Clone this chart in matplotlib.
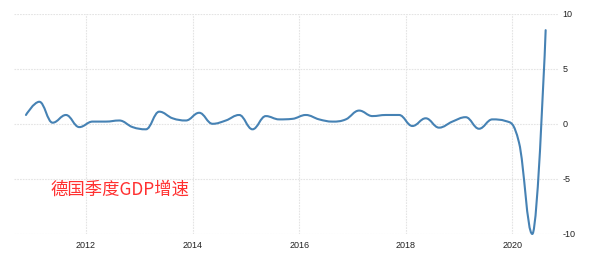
import numpy as np
import pandas as pd
import matplotlib
matplotlib.use("Agg")
import matplotlib.pyplot as plt
from matplotlib.path import Path
from matplotlib.patches import PathPatch

plt.rcParams["axes.unicode_minus"] = False

# quarterly GDP growth (QoQ %)
quarters = pd.period_range("2010Q4", "2020Q3", freq="Q")
growth = [0.8, 2.0, 0.1, 0.8, -0.3, 0.2, 0.2, 0.3, -0.3, -0.5,
          1.1, 0.5, 0.3, 1.0, 0.0, 0.3, 0.8, -0.5, 0.7, 0.4,
          0.45, 0.8, 0.4, 0.2, 0.4, 1.2, 0.7, 0.8, 0.8, -0.2,
          0.5, -0.35, 0.2, 0.6, -0.45, 0.4, 0.25, -1.7, -10.0, 8.5]
year_ticks = [2012, 2014, 2016, 2018, 2020]
y_ticks = [-10, -5, 0, 5, 10]
title_text = "德国季度GDP增速"

# decimal year at the middle of each quarter
xs = np.array([q.year + (q.quarter - 1) * 0.25 + 0.125 for q in quarters])
ys = np.array(growth, dtype=float)


def spline_path(x, y, smoothing=1.5):
    # Highcharts-like spline: bezier segments with clamped control points
    n = len(x)
    left = [(x[i], y[i]) for i in range(n)]
    right = [(x[i], y[i]) for i in range(n)]
    for i in range(1, n - 1):
        d = smoothing + 1
        lx = (smoothing * x[i] + x[i - 1]) / d
        ly = (smoothing * y[i] + y[i - 1]) / d
        rx = (smoothing * x[i] + x[i + 1]) / d
        ry = (smoothing * y[i] + y[i + 1]) / d
        corr = (ry - ly) * (rx - x[i]) / (rx - lx) + y[i] - ry
        ly += corr
        ry += corr
        if ly > max(y[i - 1], y[i]):
            ly = max(y[i - 1], y[i]); ry = 2 * y[i] - ly
        elif ly < min(y[i - 1], y[i]):
            ly = min(y[i - 1], y[i]); ry = 2 * y[i] - ly
        if ry > max(y[i + 1], y[i]):
            ry = max(y[i + 1], y[i]); ly = 2 * y[i] - ry
        elif ry < min(y[i + 1], y[i]):
            ry = min(y[i + 1], y[i]); ly = 2 * y[i] - ry
        left[i] = (lx, ly)
        right[i] = (rx, ry)
    verts = [(x[0], y[0])]
    codes = [Path.MOVETO]
    for i in range(n - 1):
        verts += [right[i], left[i + 1], (x[i + 1], y[i + 1])]
        codes += [Path.CURVE4] * 3
    return Path(verts, codes)


fig = plt.figure(figsize=(6, 2.62), dpi=100)
ax = fig.add_axes([0.0233, 0.107, 0.907, 0.841])

ax.add_patch(PathPatch(spline_path(xs, ys), facecolor="none",
                       edgecolor="#4682b4", lw=1.5, clip_on=False,
                       capstyle="round", joinstyle="round"))

ax.set_xlim(2010.65, 2020.86)
ax.set_ylim(-10, 10)
ax.set_xticks(year_ticks)
ax.set_xticklabels([str(t) for t in year_ticks])
ax.set_yticks(y_ticks)
ax.yaxis.tick_right()
ax.tick_params(length=0, labelsize=6.5, labelcolor="#222222", pad=3)
for lab in ax.get_xticklabels() + ax.get_yticklabels():
    lab.set_family("Liberation Sans")
ax.tick_params(axis="x", pad=5)
ax.grid(True, color="#e4e4e4", linestyle=(0, (1.5, 1)), linewidth=0.8)
ax.set_axisbelow(True)
for s in ax.spines.values():
    s.set_visible(False)

ax.text(2011.33, -6.0, title_text, color="#ff3030", fontsize=12.5,
        family=["Noto Sans CJK SC", "DejaVu Sans"], va="center", ha="left")

fig.savefig("out.png", dpi=100)
